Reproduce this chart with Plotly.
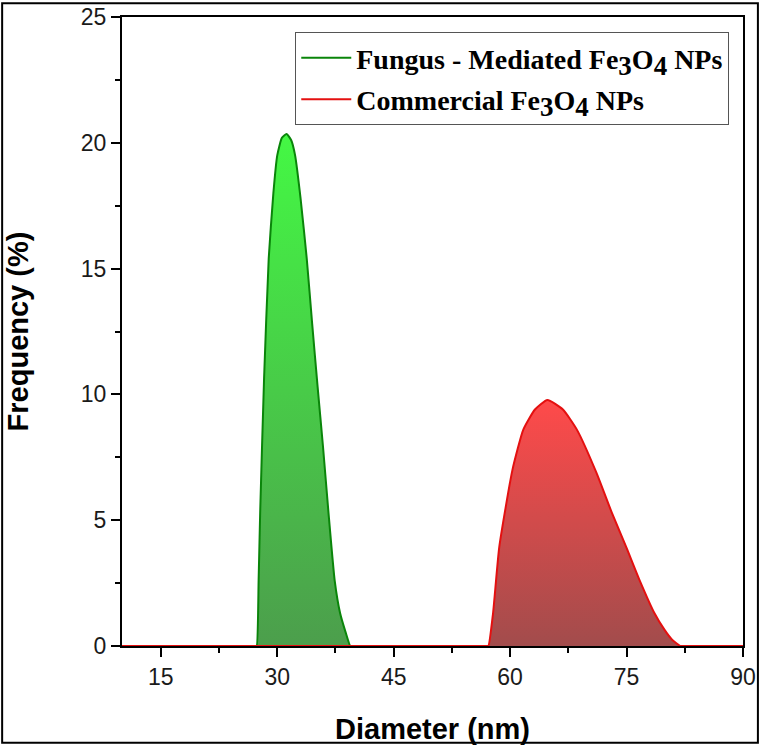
import plotly.graph_objects as go

# Particle size distribution
fungus_x = [10, 27.2, 27.35, 27.6, 27.8, 28.3, 28.9, 29.5, 30.0, 30.6, 31.2, 31.8, 32.3,
            33.0, 33.8, 34.5, 35.2, 35.9, 36.6, 37.4, 38.1, 38.8, 39.4, 39.6, 90]
fungus_y = [0, 0, 0, 2.6, 5.3, 10.6, 15.4, 18.0, 19.5, 20.2, 20.35, 20.1, 19.5,
            17.8, 15.4, 12.8, 10.3, 7.9, 5.3, 2.6, 1.3, 0.55, 0, 0, 0]

commercial_x = [10, 57.0, 57.2, 57.8, 58.6, 60.3, 61.7, 63.2, 64.8, 66.8, 68.6, 71.1, 73.1,
                75.0, 76.7, 78.6, 79.9, 80.9, 81.9, 82.1, 90]
commercial_y = [0, 0, 0, 1.3, 3.93, 7.0, 8.6, 9.4, 9.78, 9.4, 8.6, 6.9, 5.3,
                3.9, 2.6, 1.3, 0.64, 0.24, 0, 0, 0]

x_ticks = [15, 30, 45, 60, 75, 90]
y_ticks = [0, 5, 10, 15, 20, 25]

sans = "Liberation Sans, Arial, sans-serif"
serif = "Liberation Serif, Times New Roman, serif"

def fe3o4():
    sub = '<sub><span style="font-size:27px">{}</span></sub>'
    return "Fe" + sub.format(3) + "O" + sub.format(4)

names = [
    "<b>Fungus - Mediated " + fe3o4() + " NPs</b>",
    "<b>Commercial " + fe3o4() + " NPs</b>",
]
line_colors = ["#0a850a", "#e41010"]

fig = go.Figure()

fig.add_trace(go.Scatter(
    x=fungus_x, y=fungus_y,
    mode="lines",
    line=dict(color=line_colors[0], width=2, shape="spline", smoothing=0.5),
    fill="tozeroy",
    fillgradient=dict(type="vertical",
                      colorscale=[[0, "#4c9e4c"], [1, "#44f844"]]),
    showlegend=False,
))

fig.add_trace(go.Scatter(
    x=commercial_x, y=commercial_y,
    mode="lines",
    line=dict(color=line_colors[1], width=2, shape="spline", smoothing=0.5),
    fill="tozeroy",
    fillgradient=dict(type="vertical",
                      colorscale=[[0, "#a24c4c"], [1, "#ff4a4a"]]),
    showlegend=False,
))

# legend entries drawn as plain lines
for name, color in zip(names, line_colors):
    fig.add_trace(go.Scatter(x=[None], y=[None], mode="lines",
                             line=dict(color=color, width=2),
                             name=name, legendgroup=name))

axis_common = dict(
    showline=True, linecolor="black", linewidth=2, mirror=True,
    ticks="outside", ticklen=9, tickwidth=2, tickcolor="black",
    showgrid=False, zeroline=False, automargin=False,
    tickfont=dict(family=sans, size=23, color="#1a1a1a"),
    layer="below traces",
)

fig.update_xaxes(
    range=[10, 90], tickvals=x_ticks,
    minor=dict(dtick=7.5, tick0=0, ticks="outside", ticklen=5, tickwidth=2, tickcolor="black"),
    title=dict(text="<b>Diameter (nm)</b>", font=dict(family=sans, size=29, color="black"),
               standoff=30),
    **axis_common,
)
fig.update_yaxes(
    range=[0, 25], tickvals=y_ticks,
    minor=dict(dtick=2.5, tick0=0, ticks="outside", ticklen=5, tickwidth=2, tickcolor="black"),
    title=dict(text="<b>Frequency (%)</b>", font=dict(family=sans, size=29, color="black"),
               standoff=44),
    **axis_common,
)

fig.update_layout(
    width=762, height=746,
    margin=dict(l=122, r=19, t=17, b=100),
    paper_bgcolor="white", plot_bgcolor="white",
    legend=dict(
        x=0.279, y=0.976, xanchor="left", yanchor="top",
        bgcolor="white", bordercolor="#555555", borderwidth=1,
        font=dict(family=serif, size=28, color="black"),
        itemwidth=50, tracegroupgap=2,
    ),
    shapes=[dict(type="rect", xref="paper", yref="paper",
                 x0=-0.193, x1=1.024, y0=-0.154, y1=1.022,
                 line=dict(color="black", width=2), layer="above")],
)

fig.write_html("out.html", config={"displayModeBar": False},
               post_script="document.body.style.margin='0';")
